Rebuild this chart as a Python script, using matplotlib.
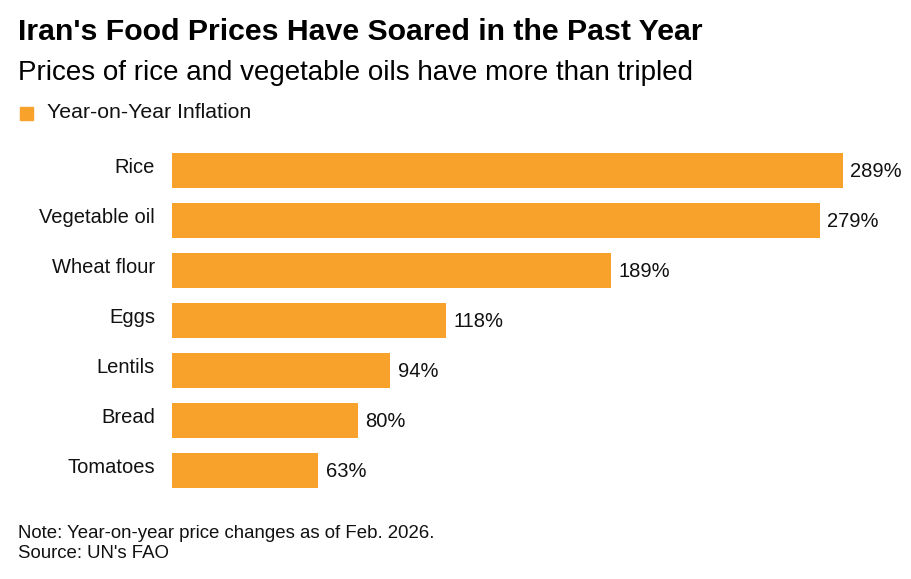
import matplotlib.pyplot as plt

categorias = ["Rice", "Vegetable oil", "Wheat flour", "Eggs", "Lentils", "Bread", "Tomatoes"]
inflacao = [289, 279, 189, 118, 94, 80, 63]
rotulos = ["289%", "279%", "189%", "118%", "94%", "80%", "63%"]

plt.rcParams["font.family"] = ["Liberation Sans", "DejaVu Sans"]
laranja = "#F9A22B"

fig = plt.figure(figsize=(9.11, 5.79), dpi=100)
W, H = 911, 579
ax = fig.add_axes([172 / W, 1 - 495 / H, 728 / W, 350 / H])

pos = list(range(len(categorias)))
ax.barh(pos, inflacao, height=0.7, color=laranja)
escala = 671 / 289
ax.set_xlim(0, 728 / escala)
ax.set_ylim(6.5, -0.5)
ax.axis("off")

for i, (nome, v, r) in enumerate(zip(categorias, inflacao, rotulos)):
    ax.text(-17 / escala, i - 0.05, nome, ha="right", va="center", fontsize=14.5, color="#111111")
    ax.text(v + 3.2, i + 0.03, r, ha="left", va="center", fontsize=14.5, color="#111111")

fig.text(18 / W, 1 - 32 / H, "Iran's Food Prices Have Soared in the Past Year",
         fontsize=21.8, fontweight="bold", va="center", ha="left", color="black")
fig.text(18 / W, 1 - 73 / H, "Prices of rice and vegetable oils have more than tripled",
         fontsize=20, va="center", ha="left", color="black")
fig.patches.append(plt.Rectangle((20 / W, 1 - 120 / H), 13 / W, 13 / H,
                                 transform=fig.transFigure, color=laranja))
fig.text(47 / W, 1 - 113 / H, "Year-on-Year Inflation", fontsize=15.3, va="center", ha="left", color="#111111")

fig.text(18 / W, 1 - 533 / H, "Note: Year-on-year price changes as of Feb. 2026.",
         fontsize=13.4, va="center", ha="left", color="#111111")
fig.text(18 / W, 1 - 553 / H, "Source: UN's FAO", fontsize=13.4, va="center", ha="left", color="#111111")

plt.savefig("out.png", dpi=100)
